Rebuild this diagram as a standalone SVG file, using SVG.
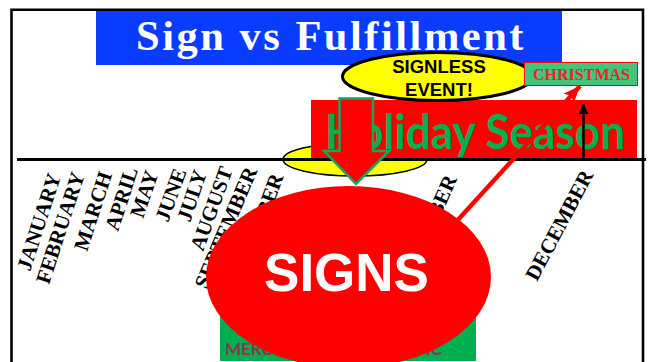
<svg xmlns="http://www.w3.org/2000/svg" width="651" height="362" viewBox="0 0 651 362">
<style>
.m{font:bold 21px "Liberation Serif",serif;fill:#000}
.s{font-family:"Liberation Sans",sans-serif;font-weight:bold;text-anchor:middle}
.g{font-family:Lato,sans-serif;font-weight:bold}
</style>
<defs>
<marker id="ar" markerUnits="userSpaceOnUse" markerWidth="20" markerHeight="20" refX="17" refY="8" orient="auto"><path d="M0 1L17 8L0 15L4 8Z" fill="#f00"/></marker>
<marker id="ab" markerUnits="userSpaceOnUse" markerWidth="12" markerHeight="12" refX="10" refY="5" orient="auto"><path d="M0 0L10 5L0 10Z" fill="#000"/></marker>
</defs>
<rect width="651" height="362" fill="#fff"/>
<path id="frame" d="M11.500 362V9.800H643V362" fill="none" stroke="#000" stroke-width="2.600"/>
<g id="title"><rect x="96" y="11" width="466" height="54" fill="#0a3cff"/>
<text x="331" y="50" text-anchor="middle" font-family="Liberation Serif" font-weight="bold" font-size="42.500" letter-spacing="2.500" fill="#fff">Sign vs Fulfillment</text></g>
<g id="small-ellipse"><ellipse cx="355" cy="159.500" rx="72" ry="16.500" fill="#ff0" stroke="#000" stroke-width="1.500"/></g>
<g id="holiday"><rect x="311" y="100" width="326" height="58" fill="#f00"/>
<text class="g" x="325" y="149" font-size="48" fill="#00b050" textLength="300" lengthAdjust="spacingAndGlyphs">Holiday Season</text></g>
<g id="months">
<text class="m" transform="translate(30 272) rotate(-72)">JANUARY</text>
<text class="m" transform="translate(49 285) rotate(-72)">FEBRUARY</text>
<text class="m" transform="translate(87 252) rotate(-72)">MARCH</text>
<text class="m" transform="translate(118 232) rotate(-72)">APRIL</text>
<text class="m" transform="translate(143 219) rotate(-71)">MAY</text>
<text class="m" transform="translate(168 223) rotate(-70)">JUNE</text>
<text class="m" transform="translate(190 223) rotate(-71)">JULY</text>
<text class="m" transform="translate(203 252) rotate(-70)">AUGUST</text>
<text class="m" transform="translate(207 290) rotate(-67)">SEPTEMBER</text>
<text class="m" transform="translate(248 275) rotate(-70)">OCTOBER</text>
<text class="m" transform="translate(407 292) rotate(-66)">NOVEMBER</text>
<text class="m" transform="translate(537 282) rotate(-62)">DECEMBER</text>
</g>
<g id="connectors">
<line x1="17" y1="159.500" x2="646" y2="159.500" stroke="#000" stroke-width="3"/>
<line x1="583.500" y1="158" x2="583.500" y2="104" stroke="#000" stroke-width="2.500" marker-end="url(#ab)"/>
<line x1="456" y1="222" x2="580" y2="86" stroke="#f00" stroke-width="4.500" marker-end="url(#ar)"/>
</g>
<g id="signless"><ellipse cx="437.500" cy="76.500" rx="95" ry="24" fill="#ff0" stroke="#000" stroke-width="3"/>
<text class="s" x="439" y="73" font-size="18.500" fill="#000">SIGNLESS</text>
<text class="s" x="439" y="96" font-size="18.500" fill="#000">EVENT!</text></g>
<g id="christmas"><rect x="524.500" y="62.500" width="113" height="23" fill="#3fc57c" stroke="#f00" stroke-width="1"/>
<text x="581.500" y="80" text-anchor="middle" font-family="Liberation Serif" font-weight="bold" font-size="16" fill="#e8262a">CHRISTMAS</text></g>
<g id="down-arrow"><path d="M339.500 98.500H373V151H389L356 184L324 151H339.500Z" fill="#f00" stroke="#14a85a" stroke-width="2.500"/></g>
<g id="merch"><rect x="220" y="310" width="256" height="51" fill="#00b050"/>
<text class="g" x="225" y="355" font-size="17" fill="#8a3555">MERC</text>
<text class="g" x="442" y="355" font-size="17" text-anchor="end" fill="#8a3555">IC</text></g>
<g id="signs"><ellipse cx="348.500" cy="277" rx="142.500" ry="91" fill="#f00"/>
<text class="s" x="346.500" y="291" font-size="53" fill="#fff">SIGNS</text></g>
</svg>
